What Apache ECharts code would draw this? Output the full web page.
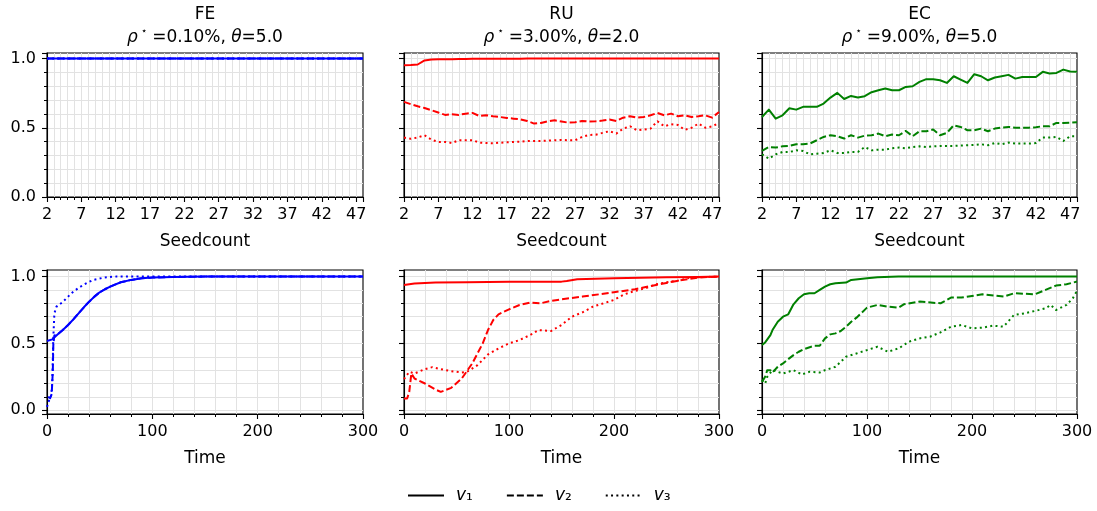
<!DOCTYPE html>
<html>
<head>
<meta charset="utf-8">
<script src="https://cdn.jsdelivr.net/npm/echarts@6/dist/echarts.min.js"></script>
<style>html,body{margin:0;padding:0;background:#fff}#c{width:1097px;height:511px}</style>
</head>
<body>
<div id="c"></div>
<script>
// ---------- DATA ----------
const seedcount = [2,3,4,5,6,7,8,9,10,11,12,13,14,15,16,17,18,19,20,21,22,23,24,25,26,27,28,29,30,31,32,33,34,35,36,37,38,39,40,41,42,43,44,45,46,47,48];
const seedTickLabels = [2,7,12,17,22,27,32,37,42,47];
const timeTickLabels = [0,100,200,300];
const yTickLabels = [0.0,0.5,1.0];

const panelNames = ['FE','RU','EC'];
const rhoLabels = ['0.10%','3.00%','9.00%'];
const thetaLabels = ['5.0','2.0','5.0'];
const legendNames = ['v1','v2','v3'];

// Top row (vs Seedcount)
const FE_seed_v1 = [1,1,1,1,1,1,1,1,1,1,1,1,1,1,1,1,1,1,1,1,1,1,1,1,1,1,1,1,1,1,1,1,1,1,1,1,1,1,1,1,1,1,1,1,1,1,1];
const FE_seed_v2 = [1,1,1,1,1,1,1,1,1,1,1,1,1,1,1,1,1,1,1,1,1,1,1,1,1,1,1,1,1,1,1,1,1,1,1,1,1,1,1,1,1,1,1,1,1,1,1];
const FE_seed_v3 = [1,1,1,1,1,1,1,1,1,1,1,1,1,1,1,1,1,1,1,1,1,1,1,1,1,1,1,1,1,1,1,1,1,1,1,1,1,1,1,1,1,1,1,1,1,1,1];

const RU_seed_v1 = [0.952,0.953,0.957,0.986,0.993,0.994,0.995,0.995,0.996,0.997,0.998,0.998,0.998,0.999,0.999,0.999,0.999,0.999,
  1,1,1,1,1,1,1,1,1,1,1,1,1,1,1,1,1,1,1,1,1,1,1,1,1,1,1,1,1];
const RU_seed_v2 = [0.687,0.670,0.655,0.643,0.627,0.610,0.593,0.598,0.593,0.602,
  0.607,0.585,0.590,0.583,0.578,0.571,0.566,0.561,0.549,0.530,
  0.535,0.547,0.554,0.545,0.537,0.540,0.549,0.545,0.547,0.552,
  0.559,0.549,0.573,0.583,0.573,0.578,0.590,0.607,0.590,0.602,
  0.583,0.590,0.578,0.583,0.590,0.573,0.614];
const RU_seed_v3 = [0.429,0.420,0.430,0.446,0.414,0.398,0.398,0.390,0.410,0.410,
  0.410,0.393,0.390,0.388,0.392,0.395,0.398,0.400,0.405,0.405,
  0.405,0.408,0.410,0.412,0.410,0.410,0.434,0.448,0.450,0.463,
  0.475,0.458,0.494,0.511,0.482,0.487,0.494,0.547,0.511,0.525,
  0.520,0.485,0.500,0.530,0.500,0.510,0.535];

const EC_seed_v1 = [0.578,0.631,0.566,0.590,0.641,0.631,0.651,0.651,0.651,0.675,
  0.718,0.752,0.708,0.730,0.718,0.728,0.757,0.771,0.783,0.771,
  0.771,0.795,0.800,0.831,0.851,0.851,0.843,0.824,0.872,0.848,
  0.824,0.887,0.872,0.843,0.863,0.872,0.882,0.855,0.867,0.867,
  0.867,0.904,0.892,0.896,0.920,0.906,0.904];
const EC_seed_v2 = [0.333,0.361,0.357,0.366,0.369,0.381,0.381,0.386,0.410,0.434,
  0.446,0.439,0.422,0.446,0.429,0.443,0.446,0.458,0.439,0.451,
  0.446,0.477,0.439,0.475,0.475,0.487,0.446,0.463,0.518,0.506,
  0.482,0.482,0.494,0.475,0.494,0.501,0.506,0.501,0.501,0.501,
  0.504,0.511,0.511,0.535,0.535,0.537,0.540];
const EC_seed_v3 = [0.308,0.277,0.308,0.325,0.325,0.337,0.332,0.308,0.313,0.318,
  0.337,0.318,0.318,0.325,0.325,0.361,0.337,0.342,0.342,0.352,
  0.357,0.352,0.361,0.366,0.361,0.366,0.369,0.369,0.369,0.371,
  0.374,0.376,0.381,0.374,0.390,0.381,0.393,0.386,0.386,0.386,
  0.390,0.429,0.429,0.434,0.405,0.439,0.439];

// Bottom row (vs Time)
const FE_time_t1 = [0,5,10,15,20,25,30,35,40,45,50,55,60,70,80,90,100,120,150,200,250,300];
const FE_time_v1 = [0.518,0.530,0.567,0.600,0.638,0.680,0.725,0.770,0.812,0.850,0.882,0.905,0.925,0.957,0.975,0.987,0.992,0.997,1.0,1.0,1.0,1.0];
const FE_time_t2 = [1,3,4.5,5.5,6,7,10,15,20,25,30,35,40,45,50,55,60,70,80,90,100,120,150,200,250,300];
const FE_time_v2 = [0.100,0.090,0.125,0.290,0.490,0.560,0.567,0.600,0.638,0.680,0.725,0.770,0.812,0.850,0.882,0.905,0.925,0.957,0.975,0.987,0.992,0.997,1.0,1.0,1.0,1.0];
const FE_time_t3 = [0,2,4,5,6,7,9,15,20,25,30,35,40,44,50,54,60,66,100,200,300];
const FE_time_v3 = [0.025,0.075,0.110,0.210,0.540,0.725,0.775,0.810,0.850,0.887,0.915,0.940,0.960,0.975,0.985,0.992,0.997,1.0,1.0,1.0,1.0];

const RU_time_t1 = [0,10,30,60,100,150,155,165,200,250,280,300];
const RU_time_v1 = [0.9375,0.948,0.955,0.957,0.962,0.962,0.967,0.980,0.987,0.995,0.997,1.0];
const RU_time_t2 = [0,3,5,7,10,20,30,35,45,55,65,75,80,85,90,100,110,120,130,140,150,170,200,220,240,260,280,300];
const RU_time_v2 = [0.0875,0.0875,0.1375,0.275,0.2375,0.200,0.155,0.1375,0.1675,0.2375,0.350,0.500,0.600,0.675,0.7175,0.755,0.7875,0.805,0.800,0.8175,0.830,0.850,0.8825,0.905,0.9375,0.9675,0.9925,1.0];
const RU_time_t3 = [0,5,10,20,27,35,45,55,60,70,80,90,100,110,120,128,140,150,160,170,180,190,200,210,220,230,240,250,260,270,280,300];
const RU_time_v3 = [0.2325,0.2875,0.275,0.3075,0.3225,0.3075,0.2925,0.2825,0.2875,0.3375,0.4175,0.4625,0.500,0.525,0.5625,0.600,0.5925,0.6375,0.700,0.7325,0.775,0.800,0.825,0.8675,0.8925,0.9125,0.9425,0.9575,0.9675,0.9875,0.995,1.0];

const EC_time_t1 = [0,3,8,10,15,20,25,30,35,40,45,50,55,60,65,70,80,85,100,110,130,200,300];
const EC_time_v1 = [0.4875,0.5075,0.5625,0.600,0.6625,0.700,0.7175,0.7925,0.8375,0.8675,0.875,0.875,0.900,0.925,0.9425,0.950,0.955,0.975,0.9875,0.995,1.0,1.0,1.0];
const EC_time_t2 = [0,3,5,8,10,15,20,25,30,35,40,50,55,60,65,70,75,80,85,90,100,110,120,130,135,150,170,180,190,210,230,240,260,270,280,290,300];
const EC_time_v2 = [0.2125,0.250,0.300,0.300,0.2825,0.325,0.350,0.3825,0.4125,0.4375,0.4575,0.4825,0.4825,0.5375,0.5675,0.575,0.5925,0.625,0.6625,0.6925,0.7675,0.7875,0.775,0.7675,0.7925,0.8125,0.800,0.8425,0.8425,0.8675,0.850,0.875,0.8675,0.900,0.9325,0.9425,0.9625];
const EC_time_t3 = [0,3,5,10,15,20,30,38,45,55,60,70,80,90,100,110,120,130,140,150,160,170,180,190,200,210,220,230,240,250,260,270,275,280,290,296,300];
const EC_time_v3 = [0.225,0.200,0.250,0.300,0.2875,0.275,0.300,0.2675,0.2875,0.2825,0.300,0.325,0.400,0.425,0.450,0.475,0.4375,0.4625,0.5125,0.5375,0.550,0.5825,0.625,0.6375,0.6125,0.6175,0.6325,0.625,0.7125,0.725,0.7425,0.7625,0.7875,0.750,0.7875,0.8375,0.8925];

// ---------- CHART ----------
const FONT = 'DejaVu Sans';
const colors = ['#0000ff', '#ff0000', '#008000'];
const LW = 2;
const lineTypes = ['solid', [7, 3], [2, 3.3]];

const colLeft = [47, 404, 762];
const colWidth = [316, 315, 315];
const rowTop = [53, 270];
const rowHeight = [144, 144];

const grids = [], xAxes = [], yAxes = [], series = [], titles = [];
const GRID_COLOR = '#e2e2e2';
const splitLine = {show: true, showMinLine: false, showMaxLine: false, lineStyle: {color: GRID_COLOR, width: 1}};
const minorSplitLine = {show: true, lineStyle: {color: GRID_COLOR, width: 1}};
const axisTick = {show: true, length: 5, lineStyle: {color: '#000', width: 1.1}};
const minorTick = {show: true, splitNumber: 5, length: 3, lineStyle: {color: '#000', width: 1}};
const tickLabelStyle = {fontFamily: FONT, fontSize: 16, color: '#000'};

function matchFmt(list, digits) {
  return v => {
    for (const t of list) if (Math.abs(v - t) < 1e-6) return digits ? t.toFixed(digits) : String(t);
    return '';
  };
}

for (let r = 0; r < 2; r++) {
  for (let c = 0; c < 3; c++) {
    const gi = grids.length;
    grids.push({left: colLeft[c], top: rowTop[r], width: colWidth[c], height: rowHeight[r],
      show: true, borderColor: '#000', borderWidth: 1.1, backgroundColor: 'transparent', containLabel: false});
    const top = r === 0;
    xAxes.push({
      type: 'value', gridIndex: gi, position: 'bottom',
      min: top ? 2 : 0, max: top ? 48 : 300, interval: top ? 5 : 100,
      axisLine: {show: true, onZero: false, lineStyle: {color: '#000', width: 1.1}},
      axisTick: axisTick, minorTick: minorTick,
      axisLabel: Object.assign({show: true, margin: 10, showMaxLabel: true,
        formatter: matchFmt(top ? seedTickLabels : timeTickLabels, 0)}, tickLabelStyle),
      splitLine: splitLine, minorSplitLine: minorSplitLine,
      name: top ? 'Seedcount' : 'Time', nameLocation: 'middle', nameGap: 36,
      nameTextStyle: {fontFamily: FONT, fontSize: 17, color: '#000'}
    });
    const yAx = {
      type: 'value', gridIndex: gi, position: 'left',
      axisLine: {show: true, onZero: false, lineStyle: {color: '#000', width: 1.1}},
      axisTick: axisTick, minorTick: minorTick,
      axisLabel: Object.assign({show: c === 0, margin: 11, formatter: matchFmt(yTickLabels, 1)}, tickLabelStyle),
      splitLine: splitLine, minorSplitLine: minorSplitLine
    };
    if (top) {
      Object.assign(yAx, {min: 0, max: 1.04, interval: 0.5});
    } else {
      Object.assign(yAx, {min: -0.028, max: 1.049, splitNumber: 2, minInterval: 0.5, maxInterval: 0.5});
    }
    yAxes.push(yAx);
  }
}

function zip(xs, ys) { return xs.map((x, i) => [x, ys[i]]); }

const seedData = [
  [FE_seed_v1, FE_seed_v2, FE_seed_v3],
  [RU_seed_v1, RU_seed_v2, RU_seed_v3],
  [EC_seed_v1, EC_seed_v2, EC_seed_v3]
];
const timeData = [
  [[FE_time_t1, FE_time_v1], [FE_time_t2, FE_time_v2], [FE_time_t3, FE_time_v3]],
  [[RU_time_t1, RU_time_v1], [RU_time_t2, RU_time_v2], [RU_time_t3, RU_time_v3]],
  [[EC_time_t1, EC_time_v1], [EC_time_t2, EC_time_v2], [EC_time_t3, EC_time_v3]]
];

function mkSeries(name, gi, data, color, k) {
  return {type: 'line', name: name, xAxisIndex: gi, yAxisIndex: gi, data: data,
    showSymbol: false, symbol: 'none', animation: false, silent: true, z: 3,
    lineStyle: {color: color, width: LW, type: lineTypes[k], cap: 'butt', join: 'round'},
    itemStyle: {color: color}};
}

for (let c = 0; c < 3; c++) {
  for (let k = 0; k < 3; k++) {
    series.push(mkSeries('s' + c + k, c, zip(seedcount, seedData[c][k]), colors[c], k));
    series.push(mkSeries('t' + c + k, 3 + c, zip(timeData[c][k][0], timeData[c][k][1]), colors[c], k));
  }
  titles.push({
    text: panelNames[c] + '\n{i|ρ}{sup|⋆}=' + rhoLabels[c] + ', {i|θ}=' + thetaLabels[c],
    left: colLeft[c] + colWidth[c] / 2, top: 3, textAlign: 'center', padding: 0,
    textStyle: {fontFamily: FONT, fontSize: 17, fontWeight: 'normal', color: '#000', lineHeight: 23,
      rich: {
        i: {fontFamily: FONT, fontSize: 17, fontStyle: 'italic', color: '#000', lineHeight: 23},
        sup: {fontFamily: FONT, fontSize: 10, color: '#000', verticalAlign: 'top', lineHeight: 23, padding: [0, 5, 0, 3]}
      }}
  });
}
// legend proxies (black)
for (let k = 0; k < 3; k++) {
  series.push(mkSeries(legendNames[k], 0, [], '#000', k));
}

const subs = {v1: '₁', v2: '₂', v3: '₃'};
const option = {
  backgroundColor: '#fff',
  animation: false,
  title: titles,
  grid: grids,
  xAxis: xAxes,
  yAxis: yAxes,
  legend: {
    data: legendNames, left: 407, top: 487, padding: 0, itemWidth: 36, itemHeight: 14, itemGap: 33,
    itemStyle: {opacity: 0},
    formatter: n => '{i|v}' + subs[n],
    textStyle: {fontFamily: FONT, fontSize: 17, color: '#000', padding: [0, 0, 0, 7],
      rich: {i: {fontFamily: FONT, fontSize: 17, fontStyle: 'italic', color: '#000'}}},
    selectedMode: false
  },
  series: series
};
const chart = echarts.init(document.getElementById('c'), null, {renderer: 'canvas'});
chart.setOption(option);
</script>
</body>
</html>
